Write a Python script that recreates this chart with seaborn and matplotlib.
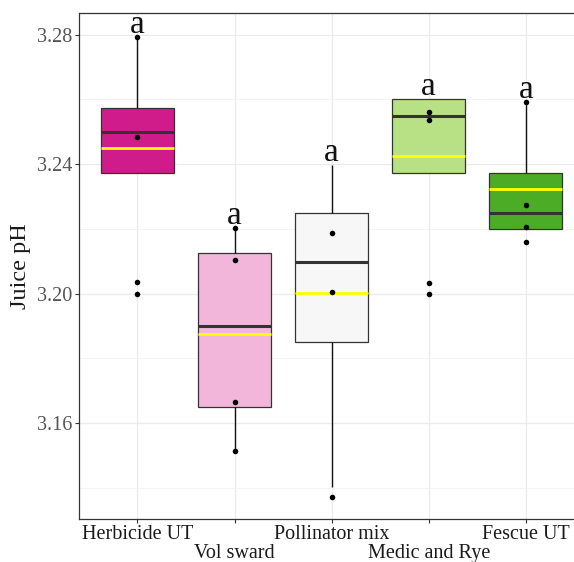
import pandas as pd
import matplotlib
matplotlib.use("Agg")
import matplotlib.pyplot as plt
import matplotlib.transforms as mtransforms
import seaborn as sns

treatments = ["Herbicide UT", "Vol sward", "Pollinator mix", "Medic and Rye", "Fescue UT"]
colors = ["#D01C8B", "#F1B6DA", "#F7F7F7", "#B8E186", "#4DAC26"]

# box summary
whisk_lo = [3.2374, 3.1514, 3.1404, 3.2374, 3.2199]
q1 = [3.2374, 3.1651, 3.1852, 3.2374, 3.2199]
median = [3.2499, 3.1901, 3.2099, 3.2549, 3.2250]
q3 = [3.2573, 3.2125, 3.2248, 3.2600, 3.2374]
whisk_hi = [3.2794, 3.2204, 3.2398, 3.2600, 3.2593]
means = [3.2449, 3.1875, 3.2001, 3.2424, 3.2323]

# individual points
points = {
    "Herbicide UT": [3.2794, 3.2483, 3.2035, 3.1999],
    "Vol sward": [3.2204, 3.2105, 3.1665, 3.1514],
    "Pollinator mix": [3.2187, 3.2006, 3.1373],
    "Medic and Rye": [3.2560, 3.2537, 3.2032, 3.1999],
    "Fescue UT": [3.2593, 3.2275, 3.2207, 3.2161],
}
letters = ["a", "a", "a", "a", "a"]

box_df = pd.DataFrame({
    "Treatment": [t for t in treatments for _ in range(5)],
    "pH": [v for i in range(5) for v in (whisk_lo[i], q1[i], median[i], q3[i], whisk_hi[i])],
})
pts_df = pd.DataFrame({
    "Treatment": [t for t in treatments for _ in points[t]],
    "pH": [v for t in treatments for v in points[t]],
})

sns.set_theme(style="ticks")
plt.rcParams["font.family"] = ["Liberation Serif", "DejaVu Serif"]

fig = plt.figure(figsize=(5.74, 5.62), dpi=100)
ax = fig.add_axes([0.138, 0.0765, 0.8795, 0.8998])

sns.boxplot(data=box_df, x="Treatment", y="pH", hue="Treatment", order=treatments,
            hue_order=treatments, palette=colors, saturation=1, legend=False, width=0.75,
            linecolor="#333333", linewidth=0.9, showcaps=False, showfliers=False,
            whis=1.5, medianprops=dict(linewidth=2.2, color="#333333"),
            whiskerprops=dict(color="#111111", linewidth=1.0), ax=ax)

ax.hlines(means, [i - 0.375 for i in range(5)], [i + 0.375 for i in range(5)],
          colors="#FFFF00", linewidth=2.0, zorder=3)

sns.stripplot(data=pts_df, x="Treatment", y="pH", order=treatments, jitter=False,
              color="black", size=4, ax=ax, zorder=4)

for i, t in enumerate(treatments):
    top = max(whisk_hi[i], max(points[t]))
    ax.text(i, top + 0.0038, letters[i], ha="center", va="center", fontsize=24,
            color="#111111", zorder=5)

ax.set_xlim(-0.6, 4.6)
ax.set_ylim(3.1304, 3.2866)
ax.set_yticks([3.16, 3.20, 3.24, 3.28])
ax.set_yticks([3.14, 3.18, 3.22, 3.26], minor=True)
ax.set_yticklabels(["3.16", "3.20", "3.24", "3.28"])
ax.set_axisbelow(True)
ax.grid(which="major", color="#EBEBEB", linewidth=0.9)
ax.grid(which="minor", axis="y", color="#F2F2F2", linewidth=0.6)
ax.tick_params(axis="both", which="major", length=3, width=0.8, color="#333333")
ax.tick_params(axis="y", which="minor", length=0)
ax.tick_params(axis="y", labelsize=14.5, labelcolor="#555555", pad=2)
ax.tick_params(axis="x", labelsize=14.5, labelcolor="#1A1A1A", pad=1)
for sp in ax.spines.values():
    sp.set_color("#333333")
    sp.set_linewidth(0.9)

shift = mtransforms.ScaledTranslation(0, -19 / 100, fig.dpi_scale_trans)
for i, lab in enumerate(ax.get_xticklabels()):
    if i % 2 == 1:
        lab.set_transform(lab.get_transform() + shift)

ax.set_xlabel("")
ax.set_ylabel("Juice pH", fontsize=17.5, color="#1A1A1A", labelpad=4)

fig.savefig("out.png", dpi=100)
